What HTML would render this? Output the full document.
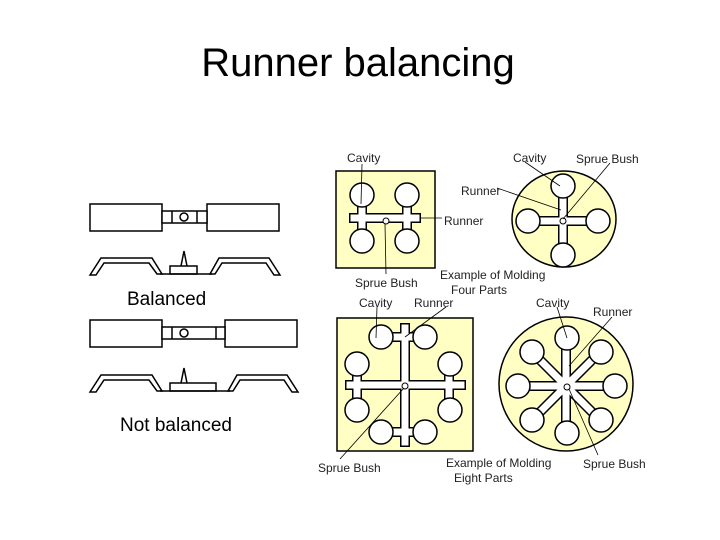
<!DOCTYPE html>
<html><head><meta charset="utf-8"><style>
html,body{margin:0;padding:0;background:#fff;}
svg{display:block;}
text{font-family:"Liberation Sans",sans-serif;}
.l{font-size:12px;fill:#222;}
</style></head><body>
<svg width="720" height="540" viewBox="0 0 720 540" xmlns="http://www.w3.org/2000/svg">
<text x="358" y="76" font-size="40" text-anchor="middle" fill="#000">Runner balancing</text>

<g fill="#fff" stroke="#000" stroke-width="1.5">
<rect x="90" y="204" width="72" height="27"/>
<rect x="207" y="204" width="72" height="27"/>
<rect x="162" y="211" width="45" height="12"/>
<line x1="172" y1="211" x2="172" y2="223"/><line x1="197" y1="211" x2="197" y2="223"/>
<circle cx="184" cy="217" r="4"/>
<polygon points="90,275 101,258 152,258 162,274 157,274 149,263 104,263 96,275"/>
<polygon points="280,275 269,258 219,258 210,274 215,274 222,263 266,263 274,275"/>
<rect x="170" y="266" width="27" height="8"/>
<path d="M181,266 L184,251 L187,266" fill="none"/>
<line x1="160" y1="274" x2="212" y2="274"/>

<rect x="90" y="320" width="72" height="27"/>
<rect x="225" y="320" width="72" height="27"/>
<rect x="162" y="327" width="63" height="12"/>
<line x1="172" y1="327" x2="172" y2="339"/><line x1="216" y1="327" x2="216" y2="339"/>
<circle cx="184" cy="333" r="4"/>
<polygon points="90,392 101,375 152,375 162,391 157,391 149,380 104,380 96,392"/>
<polygon points="298,392 287,375 237,375 228,391 233,391 240,380 284,380 292,392"/>
<rect x="170" y="383" width="46" height="8"/>
<path d="M181,383 L184,368 L187,383" fill="none"/>
<line x1="160" y1="391" x2="230" y2="391"/>
</g>
<text x="127" y="305" font-size="19">Balanced</text>
<text x="120" y="431" font-size="19">Not balanced</text>

<rect x="336" y="171" width="99" height="97" fill="#ffffc4" stroke="#000" stroke-width="1.5"/>
<g stroke="#000" stroke-width="10" fill="none">
<line x1="349" y1="218" x2="421" y2="218"/><line x1="362" y1="200" x2="362" y2="236"/><line x1="407" y1="200" x2="407" y2="236"/>
</g>
<g stroke="#fff" stroke-width="7" fill="none">
<line x1="350.5" y1="218" x2="419.5" y2="218"/><line x1="362" y1="200" x2="362" y2="236"/><line x1="407" y1="200" x2="407" y2="236"/>
</g>
<g fill="#fff" stroke="#000" stroke-width="1.5">
<circle cx="362" cy="195" r="12"/><circle cx="407" cy="195" r="12"/><circle cx="362" cy="241" r="12"/><circle cx="407" cy="241" r="12"/>
<circle cx="386" cy="221" r="3" stroke-width="1"/>
</g>

<ellipse cx="564" cy="219" rx="52" ry="48" fill="#ffffc4" stroke="#000" stroke-width="1.5"/>
<g stroke="#000" stroke-width="10"><line x1="530" y1="221" x2="598" y2="221"/><line x1="563" y1="188" x2="563" y2="254"/></g>
<g stroke="#fff" stroke-width="7"><line x1="530" y1="221" x2="598" y2="221"/><line x1="563" y1="188" x2="563" y2="254"/></g>
<g fill="#fff" stroke="#000" stroke-width="1.5">
<circle cx="563" cy="186" r="12"/><circle cx="528" cy="221" r="12"/><circle cx="598" cy="221" r="12"/><circle cx="563" cy="255" r="12"/>
<circle cx="563" cy="221" r="3" stroke-width="1"/>
</g>

<rect x="337" y="318" width="136" height="133" fill="#ffffc4" stroke="#000" stroke-width="1.5"/>
<g stroke="#000" stroke-width="10">
<line x1="345" y1="385" x2="466" y2="385"/><line x1="405" y1="323" x2="405" y2="447"/>
<line x1="380" y1="337" x2="425" y2="337"/><line x1="380" y1="432" x2="425" y2="432"/>
<line x1="357" y1="365" x2="357" y2="410"/><line x1="449" y1="365" x2="449" y2="410"/>
</g>
<g stroke="#fff" stroke-width="7">
<line x1="346.5" y1="385" x2="464.5" y2="385"/><line x1="405" y1="324.5" x2="405" y2="445.5"/>
<line x1="380" y1="337" x2="425" y2="337"/><line x1="380" y1="432" x2="425" y2="432"/>
<line x1="357" y1="365" x2="357" y2="410"/><line x1="449" y1="365" x2="449" y2="410"/>
</g>
<g fill="#fff" stroke="#000" stroke-width="1.5">
<circle cx="381" cy="337" r="12"/><circle cx="425" cy="337" r="12"/>
<circle cx="357" cy="364" r="12"/><circle cx="450" cy="364" r="12"/>
<circle cx="357" cy="410" r="12"/><circle cx="450" cy="410" r="12"/>
<circle cx="381" cy="432" r="12"/><circle cx="425" cy="432" r="12"/>
<circle cx="405" cy="386" r="3" stroke-width="1"/>
</g>

<circle cx="566" cy="384" r="67" fill="#ffffc4" stroke="#000" stroke-width="1.5"/>
<g stroke="#000" stroke-width="10">
<line x1="566" y1="338" x2="566" y2="432"/><line x1="519" y1="386" x2="613" y2="386"/>
<line x1="532" y1="352" x2="600" y2="420"/><line x1="600" y1="352" x2="532" y2="420"/>
</g>
<g stroke="#fff" stroke-width="7">
<line x1="566" y1="338" x2="566" y2="432"/><line x1="519" y1="386" x2="613" y2="386"/>
<line x1="532" y1="352" x2="600" y2="420"/><line x1="600" y1="352" x2="532" y2="420"/>
</g>
<g fill="#fff" stroke="#000" stroke-width="1.5">
<circle cx="567" cy="338" r="12"/><circle cx="567" cy="433" r="12"/>
<circle cx="518" cy="386" r="12"/><circle cx="615" cy="386" r="12"/>
<circle cx="532" cy="352" r="12"/><circle cx="601" cy="352" r="12"/>
<circle cx="532" cy="420" r="12"/><circle cx="601" cy="420" r="12"/>
<circle cx="567" cy="387" r="3" stroke-width="1"/>
</g>

<g stroke="#000" stroke-width="0.8" fill="none">
<line x1="362" y1="164" x2="361" y2="204"/>
<line x1="385" y1="224" x2="386" y2="274"/>
<line x1="420" y1="218" x2="442" y2="218"/>
<line x1="525" y1="162" x2="560" y2="186"/>
<line x1="610" y1="163" x2="563" y2="219"/>
<line x1="497" y1="188" x2="561" y2="210"/>
<line x1="377" y1="307" x2="376" y2="338"/>
<line x1="446" y1="307" x2="405" y2="337"/>
<line x1="404" y1="388" x2="340" y2="459"/>
<line x1="557" y1="307" x2="567" y2="338"/>
<line x1="612" y1="317" x2="569" y2="366"/>
<line x1="569" y1="389" x2="598" y2="455"/>
</g>

<g class="l">
<text x="347" y="162">Cavity</text>
<text x="513" y="162">Cavity</text>
<text x="576" y="163">Sprue Bush</text>
<text x="461" y="195">Runner</text>
<text x="444" y="225">Runner</text>
<text x="355" y="287">Sprue Bush</text>
<text x="440" y="279">Example of Molding</text>
<text x="451" y="294">Four Parts</text>
<text x="359" y="307">Cavity</text>
<text x="414" y="307">Runner</text>
<text x="536" y="307">Cavity</text>
<text x="593" y="316">Runner</text>
<text x="318" y="472">Sprue Bush</text>
<text x="446" y="467">Example of Molding</text>
<text x="454" y="482">Eight Parts</text>
<text x="583" y="468">Sprue Bush</text>
</g>
</svg>
</body></html>
